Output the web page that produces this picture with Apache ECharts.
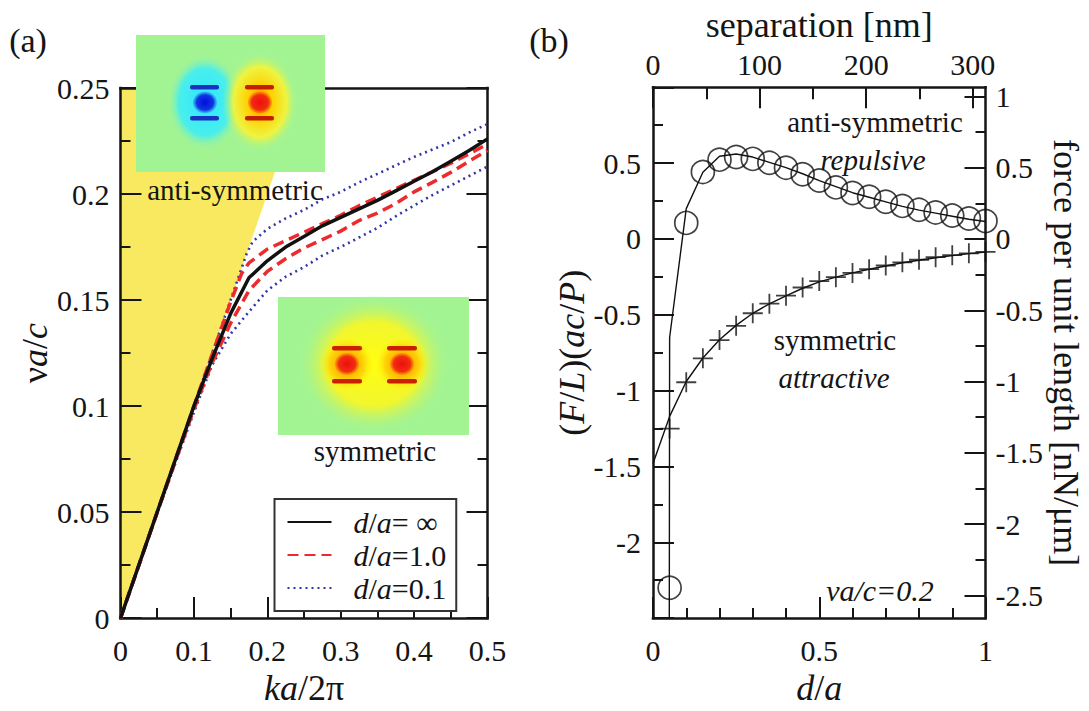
<!DOCTYPE html>
<html><head><meta charset="utf-8">
<script src="https://cdn.jsdelivr.net/npm/echarts@6/dist/echarts.min.js"></script>
<style>html,body{margin:0;padding:0;background:#fff}#c{width:1089px;height:711px}</style>
</head><body><div id="c"></div>
<script>
// ---------- Panel (a): dispersion ----------
const coneK  = [0, 0.25, 0];
const coneNu = [0, 0.25, 0.25];

const blackK  = [0,0.05,0.1,0.125,0.15,0.175,0.2,0.225,0.25,0.275,0.3,0.325,0.35,0.375,0.4,0.425,0.45,0.475,0.5];
const blackNu = [0,0.05,0.1,0.1225,0.1436,0.1605,0.1685,0.175,0.180,0.185,0.189,0.193,0.197,0.2015,0.206,0.2105,0.2155,0.2205,0.226];

const red1UpK  = [0,0.05,0.1,0.125,0.15,0.165,0.175,0.2,0.225,0.25,0.275,0.3,0.325,0.35,0.375,0.4,0.425,0.45,0.475,0.5];
const red1UpNu = [0,0.05,0.1,0.1245,0.149,0.1625,0.1675,0.174,0.178,0.182,0.186,0.19,0.1945,0.1985,0.2025,0.2065,0.2105,0.2145,0.219,0.2235];

const red1LoK  = [0,0.05,0.1,0.125,0.15,0.175,0.2,0.225,0.25,0.275,0.3,0.325,0.35,0.375,0.4,0.425,0.45,0.475,0.5];
const red1LoNu = [0,0.0498,0.0985,0.1205,0.139,0.1545,0.1635,0.1695,0.1745,0.1785,0.1825,0.1875,0.191,0.1955,0.201,0.2055,0.2102,0.2155,0.2205];

const blueUpK  = [0,0.05,0.1,0.15,0.172,0.18,0.2,0.225,0.25,0.275,0.3,0.325,0.35,0.375,0.4,0.425,0.45,0.475,0.5];
const blueUpNu = [0,0.05,0.1,0.15,0.172,0.1775,0.1835,0.1885,0.1925,0.1975,0.201,0.2055,0.2095,0.2135,0.2175,0.221,0.2245,0.229,0.233];

const blueLoK  = [0,0.05,0.1,0.125,0.15,0.175,0.2,0.225,0.25,0.275,0.3,0.325,0.35,0.375,0.4,0.425,0.45,0.475,0.5];
const blueLoNu = [0,0.0495,0.097,0.1195,0.134,0.1445,0.1545,0.161,0.1655,0.171,0.175,0.1795,0.184,0.1895,0.1945,0.1995,0.204,0.2085,0.213];

const legendNames = ['d/a= ∞', 'd/a=1.0', 'd/a=0.1'];

// ---------- Panel (b): force ----------
const markD   = [0.05,0.1,0.15,0.2,0.25,0.3,0.35,0.4,0.45,0.5,0.55,0.6,0.65,0.7,0.75,0.8,0.85,0.9,0.95,1.0];
const antiF   = [-2.3,0.106,0.442,0.523,0.54,0.528,0.502,0.47,0.427,0.385,0.34,0.303,0.278,0.245,0.218,0.192,0.175,0.154,0.135,0.118];
const symF    = [-1.25,-0.945,-0.787,-0.667,-0.573,-0.49,-0.427,-0.374,-0.32,-0.278,-0.252,-0.224,-0.199,-0.175,-0.154,-0.137,-0.12,-0.107,-0.095,-0.085];

const antiLineD = [0.049,0.05,0.06,0.1,0.15,0.2,0.25,0.3,0.35,0.4,0.45,0.5,0.55,0.6,0.65,0.7,0.75,0.8,0.85,0.9,0.95,1.0];
const antiLineF = [-2.5,-0.65,-0.48,0.2,0.44,0.545,0.56,0.54,0.505,0.47,0.43,0.385,0.345,0.305,0.275,0.245,0.215,0.19,0.17,0.15,0.13,0.115];

const symLineD = [0,0.05,0.1,0.15,0.2,0.25,0.3,0.35,0.4,0.45,0.5,0.55,0.6,0.65,0.7,0.75,0.8,0.85,0.9,0.95,1.0];
const symLineF = [-1.48,-1.17,-0.94,-0.785,-0.665,-0.57,-0.49,-0.428,-0.375,-0.325,-0.283,-0.252,-0.224,-0.2,-0.178,-0.157,-0.14,-0.124,-0.11,-0.097,-0.087];

const sepMajor = [0, 100, 200, 300];
const sepMinor = [50, 150, 250];
const forceMajor = [1, 0.5, 0, -0.5, -1, -1.5, -2, -2.5];
const forceMinor = [0.75, 0.25, -0.25, -0.75, -1.25, -1.75, -2.25];

// ---------- styling ----------
const FONT = 'Liberation Serif';
const INK = '#151515';
const zip = (a, b) => a.map((v, i) => [v, b[i]]);
const lbl = (extra) => Object.assign({fontFamily: FONT, fontSize: 30, color: INK}, extra || {});
const nameStyle = {fontFamily: FONT, fontSize: 36, color: INK,
  rich: {i: {fontFamily: FONT, fontSize: 36, fontStyle: 'italic', color: INK},
         n: {fontFamily: FONT, fontSize: 36, color: INK}}};
const frameLine = {show: true, onZero: false, lineStyle: {color: INK, width: 2.5, cap: 'square'}};

function axis(o) {
  return Object.assign({
    type: 'value',
    splitLine: {show: false},
    axisLine: frameLine,
    axisTick: {show: true, inside: true, length: 21, lineStyle: {color: INK, width: 2}},
    minorTick: {show: false},
    axisLabel: lbl({margin: 12})
  }, o);
}
const minorT = (n) => ({show: true, splitNumber: n, length: 10, lineStyle: {color: INK, width: 2}});

const L = {left: 120.5, top: 88, width: 367, height: 544.5};
const R = {left: 653, top: 87.3, width: 332.5, height: 546};

// ---------- inset pictures (decorative field maps) ----------
const GREEN = '#a2f493';
const rad = (stops) => ({type: 'radial', x: 0.5, y: 0.5, r: 0.5,
  colorStops: stops.map(s => ({offset: s[0], color: s[1]}))});
function blob(cx, cy, r, sx, stops) {
  return {type: 'circle', z: 100, x: cx, y: cy, scaleX: sx, shape: {cx: 0, cy: 0, r: r}, style: {fill: rad(stops)}};
}
function bar(x, y, w, col) {
  return {type: 'rect', z: 100, shape: {x: x, y: y, width: w, height: 4.5, r: 2}, style: {fill: col}};
}
const inset1 = {type: 'group', x: 136, y: 35, z: 100, children: [
  {type: 'rect', z: 100, shape: {x: 0, y: 0, width: 189, height: 137}, style: {fill: GREEN}},
  blob(69, 67, 48, 0.78, [[0, 'rgba(40,232,255,1)'], [0.7, 'rgba(70,238,240,0.95)'], [1, 'rgba(162,244,147,0)']]),
  blob(124, 67, 50, 0.76, [[0, '#ff6a00'], [0.32, '#ffd000'], [0.7, 'rgba(242,244,60,0.95)'], [1, 'rgba(162,244,147,0)']]),
  bar(54, 50, 29, '#1a30c0'), bar(54, 81, 29, '#1a30c0'),
  blob(69, 67.5, 11, 1.1, [[0, '#0010d8'], [0.7, '#1236e4'], [1, 'rgba(40,120,240,0.3)']]),
  bar(109, 50, 29, '#c41e00'), bar(109, 81, 29, '#c41e00'),
  blob(124, 67.5, 11, 1.1, [[0, '#ee0e0e'], [0.7, '#f02e10'], [1, 'rgba(255,90,0,0.3)']])
]};
const inset2 = {type: 'group', x: 278, y: 297, z: 100, children: [
  {type: 'rect', z: 100, shape: {x: 0, y: 0, width: 191, height: 138}, style: {fill: GREEN}},
  blob(96, 67, 70, 1.1, [[0, '#ffff10'], [0.6, 'rgba(246,246,40,0.95)'], [1, 'rgba(162,244,147,0)']]),
  blob(69, 67, 28, 1, [[0, '#ff7a00'], [0.6, 'rgba(255,200,0,0.8)'], [1, 'rgba(255,255,20,0)']]),
  blob(124, 67, 28, 1, [[0, '#ff7a00'], [0.6, 'rgba(255,200,0,0.8)'], [1, 'rgba(255,255,20,0)']]),
  bar(54, 49, 30, '#c82000'), bar(54, 82, 30, '#c82000'),
  bar(109, 49, 30, '#c82000'), bar(109, 82, 30, '#c82000'),
  blob(69, 67, 11, 1.1, [[0, '#ee0e0e'], [0.7, '#f02e10'], [1, 'rgba(255,90,0,0.3)']]),
  blob(124, 67, 11, 1.1, [[0, '#ee0e0e'], [0.7, '#f02e10'], [1, 'rgba(255,90,0,0.3)']])
]};
function txt(t, x, y, size, italic) {
  return {type: 'text', x: x, y: y, z: 110, style: {text: t, fill: INK, fontFamily: FONT,
    fontSize: size, fontStyle: italic ? 'italic' : 'normal', align: 'center', verticalAlign: 'middle'}};
}

const plusPath = 'path://M-0.09,-1 H0.09 V-0.09 H1 V0.09 H0.09 V1 H-0.09 V0.09 H-1 V-0.09 H-0.09 Z';

const option = {
  backgroundColor: '#fff',
  animation: false,
  grid: [Object.assign({show: false}, L), Object.assign({show: false}, R)],
  legend: {
    data: legendNames, orient: 'vertical', left: 274.5, top: 499,
    padding: [7, 10, 7, 12], itemGap: 1, itemWidth: 44, itemHeight: 14,
    borderColor: '#333', borderWidth: 2, backgroundColor: '#fff', selectedMode: false, z: 120,
    itemStyle: {opacity: 0},
    textStyle: {fontFamily: FONT, fontSize: 30, lineHeight: 32, color: INK,
      rich: {g: {width: 17, fontSize: 30, fontFamily: FONT},
             i: {fontFamily: FONT, fontSize: 30, fontStyle: 'italic', color: INK},
             t: {fontFamily: FONT, fontSize: 30, color: INK}}},
    formatter: (n) => '{g| }{i|d}{t|/}{i|a}{t|' + n.slice(3) + '}'
  },
  xAxis: [
    axis({gridIndex: 0, position: 'bottom', min: 0, max: 0.5, interval: 0.1, minorTick: minorT(2),
      axisLabel: lbl({margin: 17}),
      name: '{i|ka}{n|/2π}', nameLocation: 'middle', nameGap: 49, nameTextStyle: nameStyle}),
    axis({gridIndex: 1, position: 'bottom', min: 0, max: 1, interval: 0.5, minorTick: minorT(5),
      axisLabel: lbl({margin: 17}),
      name: '{i|d}{n|/}{i|a}', nameLocation: 'middle', nameGap: 49, nameTextStyle: nameStyle}),
    axis({gridIndex: 1, position: 'top', min: 0, max: 312, interval: 100,
      axisTick: {show: true, inside: true, length: 21, customValues: sepMajor, lineStyle: {color: INK, width: 2}},
      axisLabel: lbl({margin: 8, customValues: sepMajor}),
      name: 'separation [nm]', nameLocation: 'middle', nameGap: 44, nameTextStyle: nameStyle}),
    axis({gridIndex: 1, position: 'top', min: 0, max: 312, interval: 100,
      axisLine: {show: false, onZero: false},
      axisTick: {show: true, inside: true, length: 12, customValues: sepMinor, lineStyle: {color: INK, width: 2}},
      axisLabel: {show: false}}),
    axis({gridIndex: 0, position: 'top', min: 0, max: 0.5, interval: 0.1,
      axisTick: {show: false}, axisLabel: {show: false}})
  ],
  yAxis: [
    axis({gridIndex: 0, position: 'left', min: 0, max: 0.25, interval: 0.05, minorTick: minorT(2),
      axisLabel: lbl({margin: 11}),
      name: '{n|ν}{i|a}{n|/}{i|c}', nameLocation: 'middle', nameGap: 64, nameTextStyle: nameStyle}),
    axis({gridIndex: 0, position: 'right', min: 0, max: 0.25, interval: 0.05, minorTick: minorT(2),
      axisLabel: {show: false}}),
    axis({gridIndex: 1, position: 'left', min: -2.5, max: 1, interval: 0.5, minorTick: minorT(2),
      axisLabel: lbl({margin: 12, showMinLabel: false, showMaxLabel: false}),
      name: '{n|(}{i|F}{n|/}{i|L}{n|)(}{i|ac}{n|/}{i|P}{n|)}', nameLocation: 'middle', nameGap: 61, nameTextStyle: nameStyle}),
    axis({gridIndex: 1, position: 'right', min: -2.6585, max: 1.0634,
      axisTick: {show: true, inside: true, length: 21, customValues: forceMajor, lineStyle: {color: INK, width: 2}},
      axisLabel: lbl({margin: 10, customValues: forceMajor}),
      name: 'force per unit length [nN/μm]', nameLocation: 'middle', nameRotate: -90, nameGap: 62, nameTextStyle: nameStyle}),
    axis({gridIndex: 1, position: 'right', min: -2.6585, max: 1.0634,
      axisLine: {show: false, onZero: false},
      axisTick: {show: true, inside: true, length: 10, customValues: forceMinor, lineStyle: {color: INK, width: 2}},
      axisLabel: {show: false}})
  ],
  series: [
    {type: 'custom', name: 'light cone', xAxisIndex: 0, yAxisIndex: 0, z: -1, silent: true,
      data: zip(coneK, coneNu), encode: {x: 0, y: 1},
      renderItem: (params, api) => {
        if (params.dataIndex !== 0) return null;
        const pts = coneK.map((k, i) => api.coord([k, coneNu[i]]));
        return {type: 'polygon', shape: {points: pts}, style: {fill: '#f9e961'}};
      }},
    {type: 'line', name: legendNames[0], xAxisIndex: 0, yAxisIndex: 0, symbol: 'none', z: 4,
      data: zip(blackK, blackNu), lineStyle: {color: '#111', width: 3.5}, itemStyle: {color: '#111'}},
    {type: 'line', name: legendNames[1], xAxisIndex: 0, yAxisIndex: 0, symbol: 'none', z: 3,
      data: zip(red1UpK, red1UpNu), lineStyle: {color: '#ec2b2e', width: 3.5, type: [11, 6]}, itemStyle: {color: '#ec2b2e'}},
    {type: 'line', name: legendNames[1], xAxisIndex: 0, yAxisIndex: 0, symbol: 'none', z: 3,
      data: zip(red1LoK, red1LoNu), lineStyle: {color: '#ec2b2e', width: 3.5, type: [11, 6]}, itemStyle: {color: '#ec2b2e'}},
    {type: 'line', name: legendNames[2], xAxisIndex: 0, yAxisIndex: 0, symbol: 'none', z: 2,
      data: zip(blueUpK, blueUpNu), lineStyle: {color: '#3236a8', width: 2.6, type: [2, 4]}, itemStyle: {color: '#3236a8'}},
    {type: 'line', name: legendNames[2], xAxisIndex: 0, yAxisIndex: 0, symbol: 'none', z: 2,
      data: zip(blueLoK, blueLoNu), lineStyle: {color: '#3236a8', width: 2.6, type: [2, 4]}, itemStyle: {color: '#3236a8'}},

    {type: 'line', name: 'anti-symmetric theory', xAxisIndex: 1, yAxisIndex: 2, symbol: 'none',
      data: zip(antiLineD, antiLineF), lineStyle: {color: '#111', width: 1.4}},
    {type: 'scatter', name: 'anti-symmetric', xAxisIndex: 1, yAxisIndex: 2, symbol: 'circle', symbolSize: 23, clip: false,
      data: zip(markD, antiF), itemStyle: {color: 'rgba(0,0,0,0)', borderColor: '#111', borderWidth: 1.7}},
    {type: 'line', name: 'symmetric theory', xAxisIndex: 1, yAxisIndex: 2, symbol: 'none',
      data: zip(symLineD, symLineF), lineStyle: {color: '#111', width: 1.4}},
    {type: 'scatter', name: 'symmetric', xAxisIndex: 1, yAxisIndex: 2, symbol: plusPath, symbolSize: 20, clip: false,
      data: zip(markD, symF), itemStyle: {color: '#111'}}
  ],
  graphic: [
    inset1, inset2,
    txt('(a)', 28, 40, 34, false),
    txt('(b)', 549, 40, 34, false),
    txt('anti-symmetric', 235, 190, 29, false),
    txt('symmetric', 375, 451, 29, false),
    txt('anti-symmetric', 875, 122, 29, false),
    txt('repulsive', 873, 160, 29, true),
    txt('symmetric', 835, 340, 29, false),
    txt('attractive', 834, 378, 29, true),
    txt('νa/c=0.2', 880, 590, 30, true)
  ]
};
const chart = echarts.init(document.getElementById('c'), null, {renderer: 'svg'});
chart.setOption(option);
</script>
</body></html>
